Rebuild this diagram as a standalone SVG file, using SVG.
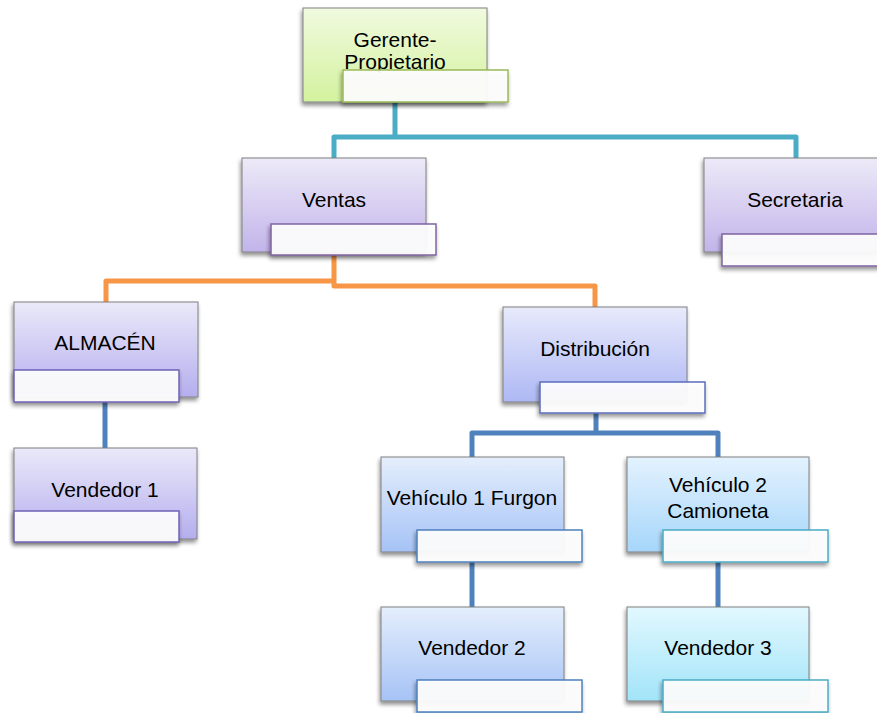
<svg xmlns="http://www.w3.org/2000/svg" width="877" height="713" viewBox="0 0 877 713">
<defs>
<filter id="sh" x="-10%" y="-10%" width="125%" height="135%">
<feGaussianBlur in="SourceAlpha" stdDeviation="2"/>
<feOffset dx="-1" dy="3" result="b"/>
<feComponentTransfer><feFuncA type="linear" slope="0.45"/></feComponentTransfer>
<feMerge><feMergeNode/><feMergeNode in="SourceGraphic"/></feMerge>
</filter>
<linearGradient id="gGreen" x1="0" y1="0" x2="0" y2="1"><stop offset="0" stop-color="#F1FADF"/><stop offset="1" stop-color="#D3F29E"/></linearGradient>
<linearGradient id="gPurple" x1="0" y1="0" x2="0" y2="1"><stop offset="0" stop-color="#EDEAF8"/><stop offset="1" stop-color="#C2B4EA"/></linearGradient>
<linearGradient id="gLav" x1="0" y1="0" x2="0" y2="1"><stop offset="0" stop-color="#EAE9F9"/><stop offset="1" stop-color="#B5AEEE"/></linearGradient>
<linearGradient id="gPeri" x1="0" y1="0" x2="0" y2="1"><stop offset="0" stop-color="#E8EAFB"/><stop offset="1" stop-color="#AEB8F4"/></linearGradient>
<linearGradient id="gBlue" x1="0" y1="0" x2="0" y2="1"><stop offset="0" stop-color="#E4EEFC"/><stop offset="1" stop-color="#A6C3F6"/></linearGradient>
<linearGradient id="gSky" x1="0" y1="0" x2="0" y2="1"><stop offset="0" stop-color="#E3F2FE"/><stop offset="1" stop-color="#A6D6FA"/></linearGradient>
<linearGradient id="gCyan" x1="0" y1="0" x2="0" y2="1"><stop offset="0" stop-color="#E2F8FE"/><stop offset="1" stop-color="#A2E4F9"/></linearGradient>
</defs>
<style>
.main{stroke:#808080;stroke-width:1;filter:url(#sh)}
.sub{fill:#FFFFFF;fill-opacity:0.92;stroke-width:1.5;filter:url(#sh)}
.lbl{font-family:"Liberation Sans",Arial,sans-serif;font-size:21px;fill:#000;text-anchor:middle}
.con{fill:none;stroke-width:5;stroke-linejoin:round}
</style>
<g id="connectors">
<path class="con" stroke="#4BACC6" d="M395,102 V137 M334,158 V137 H796 V158"/>
<path class="con" stroke="#F79646" d="M334,252 V286 H595 V307 M334,281 H106 V302"/>
<path class="con" stroke="#4F81BD" d="M105,402 V448 M596,413 V433 M472,457 V433 H718 V457 M472,562 V607 M718,562 V607"/>
</g>
<g id="gerente">
<rect class="main" x="303" y="8" width="184" height="94" fill="url(#gGreen)"/>
<text class="lbl" x="395" y="47">Gerente-</text>
<text class="lbl" x="395" y="69">Propietario</text>
<rect class="sub" x="343" y="70" width="165" height="32" stroke="#9BBB59"/>
</g>
<g id="ventas">
<rect class="main" x="242" y="158" width="184" height="94" fill="url(#gPurple)"/>
<text class="lbl" x="334" y="207">Ventas</text>
<rect class="sub" x="271" y="224" width="165" height="31" stroke="#8064A2"/>
</g>
<g id="secretaria">
<rect class="main" x="704" y="158" width="184" height="94" fill="url(#gPurple)"/>
<text class="lbl" x="795" y="207">Secretaria</text>
<rect class="sub" x="722" y="234" width="165" height="32" stroke="#8064A2"/>
</g>
<g id="almacen">
<rect class="main" x="14" y="302" width="184" height="95" fill="url(#gLav)"/>
<text class="lbl" x="105" y="350">ALMACÉN</text>
<rect class="sub" x="14" y="370" width="165" height="32" stroke="#6F63B5"/>
</g>
<g id="vendedor1">
<rect class="main" x="14" y="448" width="183" height="91" fill="url(#gLav)"/>
<text class="lbl" x="105" y="497">Vendedor 1</text>
<rect class="sub" x="14" y="511" width="165" height="31" stroke="#6F63B5"/>
</g>
<g id="distribucion">
<rect class="main" x="503" y="307" width="184" height="95" fill="url(#gPeri)"/>
<text class="lbl" x="595" y="356">Distribución</text>
<rect class="sub" x="540" y="382" width="165" height="31" stroke="#5B6FBF"/>
</g>
<g id="vehiculo1">
<rect class="main" x="381" y="457" width="183" height="95" fill="url(#gBlue)"/>
<text class="lbl" x="472" y="505">Vehículo 1 Furgon</text>
<rect class="sub" x="417" y="530" width="165" height="32" stroke="#4F81BD"/>
</g>
<g id="vehiculo2">
<rect class="main" x="627" y="457" width="182" height="95" fill="url(#gSky)"/>
<text class="lbl" x="718" y="492">Vehículo 2</text>
<text class="lbl" x="718" y="518">Camioneta</text>
<rect class="sub" x="663" y="530" width="165" height="32" stroke="#4BACC6"/>
</g>
<g id="vendedor2">
<rect class="main" x="381" y="607" width="183" height="94" fill="url(#gBlue)"/>
<text class="lbl" x="472" y="655">Vendedor 2</text>
<rect class="sub" x="417" y="680" width="165" height="32" stroke="#4F81BD"/>
</g>
<g id="vendedor3">
<rect class="main" x="627" y="607" width="182" height="94" fill="url(#gCyan)"/>
<text class="lbl" x="718" y="655">Vendedor 3</text>
<rect class="sub" x="663" y="680" width="165" height="32" stroke="#4BACC6"/>
</g>
</svg>
